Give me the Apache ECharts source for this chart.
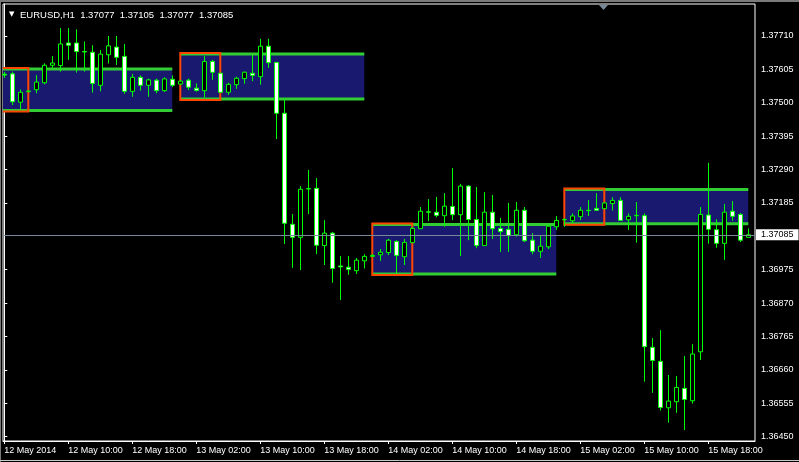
<!DOCTYPE html>
<html>
<head>
<meta charset="utf-8">
<script src="https://cdn.jsdelivr.net/npm/echarts@6/dist/echarts.min.js"></script>
<style>
html,body{margin:0;padding:0;background:#000;}
#chart{width:799px;height:462px;}
</style>
</head>
<body>
<div id="chart"></div>
<script>
// ---------- data ----------
const symbol = 'EURUSD,H1';
const timeLabels = ['12 May 2014','12 May 10:00','12 May 18:00','13 May 02:00','13 May 10:00','13 May 18:00',
  '14 May 02:00','14 May 10:00','14 May 18:00','15 May 02:00','15 May 10:00','15 May 18:00'];
const timeLabelBars = [0, 8, 16, 24, 32, 40, 48, 56, 64, 72, 80, 88];

const opens = [
  1.37590,1.37591,1.37502,1.37535,1.37541,1.37563,1.37618,1.37617,1.37688,1.37688,
  1.37661,1.37659,1.37555,1.37651,1.37675,1.37646,1.37536,1.37580,1.37555,1.37571,
  1.37538,1.37574,1.37559,1.37571,1.37546,1.37538,1.37630,1.37593,1.37533,1.37557,
  1.37576,1.37593,1.37582,1.37678,1.37627,1.37467,1.37118,1.37077,1.37230,1.37231,
  1.37051,1.37090,1.36987,1.36983,1.36972,1.37003,1.37017,1.37022,1.37029,1.37064,
  1.37016,1.37060,1.37104,1.37157,1.37156,1.37145,1.37174,1.37148,1.37238,1.37133,
  1.37051,1.37156,1.37105,1.37102,1.37085,1.37162,1.37068,1.37033,1.37047,1.37110,
  1.37132,1.37129,1.37142,1.37162,1.37168,1.37167,1.37183,1.37193,1.37132,1.37145,
  1.37145,1.36731,1.36687,1.36541,1.36560,1.36602,1.36563,1.36717,1.37147,1.37101,
  1.37058,1.37159,1.37149,1.37077];
const closes = [
  1.37587,1.37503,1.37533,1.37537,1.37565,1.37618,1.37625,1.37685,1.37681,1.37661,
  1.37660,1.37561,1.37653,1.37679,1.37643,1.37536,1.37580,1.37555,1.37572,1.37538,
  1.37575,1.37555,1.37568,1.37549,1.37539,1.37630,1.37596,1.37533,1.37558,1.37577,
  1.37596,1.37586,1.37678,1.37626,1.37467,1.37121,1.37077,1.37228,1.37229,1.37052,
  1.37090,1.36979,1.36984,1.36976,1.37005,1.37017,1.37020,1.37030,1.37068,1.37020,
  1.37061,1.37105,1.37159,1.37156,1.37146,1.37175,1.37148,1.37238,1.37133,1.37051,
  1.37156,1.37104,1.37095,1.37082,1.37162,1.37066,1.37033,1.37049,1.37112,1.37130,
  1.37133,1.37144,1.37162,1.37161,1.37162,1.37185,1.37193,1.37130,1.37143,1.37146,
  1.36733,1.36690,1.36542,1.36562,1.36605,1.36567,1.36710,1.37149,1.37102,1.37058,
  1.37156,1.37143,1.37068,1.37085];
const lows = [
  1.37578,1.37493,1.37480,1.37533,1.37530,1.37558,1.37608,1.37598,1.37635,1.37595,
  1.37598,1.37532,1.37536,1.37624,1.37619,1.37528,1.37519,1.37538,1.37519,1.37530,
  1.37534,1.37549,1.37556,1.37540,1.37535,1.37517,1.37572,1.37531,1.37525,1.37544,
  1.37560,1.37568,1.37557,1.37610,1.37386,1.37056,1.36981,1.36974,1.37150,1.37024,
  1.36990,1.36934,1.36880,1.36959,1.36962,1.36979,1.37015,1.37003,1.37021,1.36964,
  1.36990,1.37059,1.37103,1.37128,1.37140,1.37110,1.37131,1.37018,1.37068,1.37043,
  1.37050,1.37072,1.37031,1.37031,1.37079,1.37062,1.37024,1.37012,1.37040,1.37100,
  1.37110,1.37121,1.37131,1.37144,1.37160,1.37166,1.37161,1.37128,1.37100,1.37060,
  1.36623,1.36588,1.36532,1.36494,1.36525,1.36471,1.36554,1.36691,1.37057,1.37044,
  1.37006,1.37129,1.37062,1.37077];
const highs = [
  1.37597,1.37598,1.37542,1.37539,1.37587,1.37624,1.37647,1.37735,1.37735,1.37731,
  1.37693,1.37681,1.37666,1.37710,1.37710,1.37685,1.37591,1.37586,1.37576,1.37576,
  1.37580,1.37586,1.37572,1.37576,1.37561,1.37647,1.37635,1.37594,1.37563,1.37582,
  1.37598,1.37651,1.37701,1.37701,1.37628,1.37513,1.37150,1.37238,1.37289,1.37263,
  1.37131,1.37094,1.37018,1.37018,1.37012,1.37024,1.37024,1.37040,1.37072,1.37068,
  1.37072,1.37110,1.37172,1.37197,1.37204,1.37216,1.37295,1.37245,1.37241,1.37235,
  1.37219,1.37210,1.37138,1.37185,1.37188,1.37172,1.37090,1.37081,1.37116,1.37144,
  1.37137,1.37152,1.37172,1.37194,1.37216,1.37188,1.37203,1.37203,1.37152,1.37188,
  1.37152,1.36760,1.36785,1.36644,1.36641,1.36704,1.36741,1.37172,1.37311,1.37134,
  1.37182,1.37191,1.37153,1.37105];

const priceTicks = [1.36450,1.36555,1.36660,1.36765,1.36870,1.36975,1.37185,1.37290,1.37395,1.37500,1.37605,1.37710];
const priceMin = 1.364365;
const priceMax = 1.378106;
const bidPrice = 1.37085;

// session boxes: start bar, end bar, end of opening range bar, top, bottom
const boxStart = [-2, 22, 46, 70];
const boxEnd = [21, 45, 69, 93];
const rangeEnd = [3, 27, 51, 75];
const boxTop = [1.37606, 1.37653, 1.37117, 1.37227];
const boxBottom = [1.37476, 1.37512, 1.36962, 1.37120];

// ---------- build ----------
const candleData = opens.map((o, i) => [i, o, closes[i], lows[i], highs[i]]);
const boxData = boxStart.map((s, i) => [s, boxEnd[i], rangeEnd[i], boxTop[i], boxBottom[i]]);
const last = opens.length - 1;
const font = 'Liberation Sans, Arial, sans-serif';
const headerText = symbol + '  ' + [opens[last], highs[last], lows[last], closes[last]].map(v => v.toFixed(5)).join('  ');

const chart = echarts.init(document.getElementById('chart'), null, {renderer: 'canvas'});
chart.setOption({
  backgroundColor: '#000',
  animation: false,
  title: [
    {text: '▼', left: 4, top: 6,
      textStyle: {color: '#fff', fontSize: 7, fontWeight: 'normal', fontFamily: 'DejaVu Sans, sans-serif'}},
    {text: headerText, left: 15, top: 5,
      textStyle: {color: '#fff', fontSize: 9.5, fontWeight: 'normal', fontFamily: font}}
  ],
  grid: {left: 3, top: 4, width: 752, height: 437, show: true, borderColor: '#fff', borderWidth: 1, backgroundColor: '#000'},
  xAxis: {
    type: 'value', min: -0.1625, max: 93.8375,
    axisLine: {show: true, lineStyle: {color: '#fff'}},
    axisTick: {show: true, length: 3, lineStyle: {color: '#fff'}, customValues: timeLabelBars},
    axisLabel: {color: '#fff', fontSize: 9, fontFamily: font, align: 'left', margin: 5,
      customValues: timeLabelBars,
      formatter: v => timeLabels[timeLabelBars.indexOf(Math.round(v))] || ''},
    splitLine: {show: false}
  },
  yAxis: {
    type: 'value', position: 'right', min: priceMin, max: priceMax, scale: true,
    axisLine: {show: true, lineStyle: {color: '#fff'}},
    axisTick: {show: true, length: 3, lineStyle: {color: '#fff'}, customValues: priceTicks},
    axisLabel: {color: '#fff', fontSize: 9, fontFamily: font, margin: 6,
      customValues: priceTicks, formatter: v => v.toFixed(5)},
    splitLine: {show: false}
  },
  series: [
    {
      type: 'custom', z: 1, silent: true,
      data: boxData,
      renderItem: (params, api) => {
        const s = api.value(0), e = api.value(1), r = api.value(2), t = api.value(3), b = api.value(4);
        const p1 = api.coord([s, t]), p2 = api.coord([e, b]), p3 = api.coord([r, b]);
        const cs = params.coordSys;
        return {
          type: 'group',
          clipPath: {type: 'rect', shape: {x: cs.x, y: cs.y, width: cs.width, height: cs.height}},
          children: [
            {type: 'rect', shape: {x: p1[0], y: p1[1], width: p2[0] - p1[0], height: p2[1] - p1[1]},
              style: {fill: '#191970'}},
            {type: 'line', shape: {x1: p1[0], y1: p1[1], x2: p2[0], y2: p1[1]}, style: {stroke: '#32CD32', lineWidth: 3}},
            {type: 'line', shape: {x1: p1[0], y1: p2[1], x2: p2[0], y2: p2[1]}, style: {stroke: '#32CD32', lineWidth: 3}},
            {type: 'rect', shape: {x: p1[0], y: p1[1] - 1, width: p3[0] - p1[0], height: p3[1] - p1[1] + 2},
              style: {fill: 'none', stroke: '#FF4500', lineWidth: 2}}
          ]
        };
      }
    },
    {
      type: 'line', z: 2, data: [], silent: true,
      markLine: {
        silent: true, symbol: 'none', animation: false, precision: 5,
        lineStyle: {color: '#778899', width: 1, type: 'solid'},
        label: {show: true, position: 'end', distance: 1, formatter: bidPrice.toFixed(5),
          color: '#000', backgroundColor: '#fff', fontSize: 9, fontFamily: font, padding: [1, 5, 1, 5]},
        data: [{yAxis: bidPrice}]
      }
    },
    {
      type: 'candlestick', z: 3, barWidth: 4, silent: true,
      encode: {x: 0, y: [1, 2, 3, 4]},
      data: candleData,
      itemStyle: {color: '#000', color0: '#fff', borderColor: '#00ff00', borderColor0: '#00ff00',
        borderColorDoji: '#00ff00', borderWidth: 1}
    }
  ],
  graphic: [
    {type: 'rect', shape: {x: 0, y: 0, width: 799, height: 2}, style: {fill: '#7a7a7a'}, silent: true},
    {type: 'rect', shape: {x: 0, y: 0, width: 1, height: 462}, style: {fill: '#7a7a7a'}, silent: true},
    {type: 'polygon', shape: {points: [[599, 5], [608, 5], [603.5, 10]]}, style: {fill: '#778899'}, silent: true},
    {type: 'line', shape: {x1: 0, y1: 460.5, x2: 799, y2: 460.5}, style: {stroke: '#c8c8c8', lineWidth: 1}, silent: true}
  ]
});
</script>
</body>
</html>
